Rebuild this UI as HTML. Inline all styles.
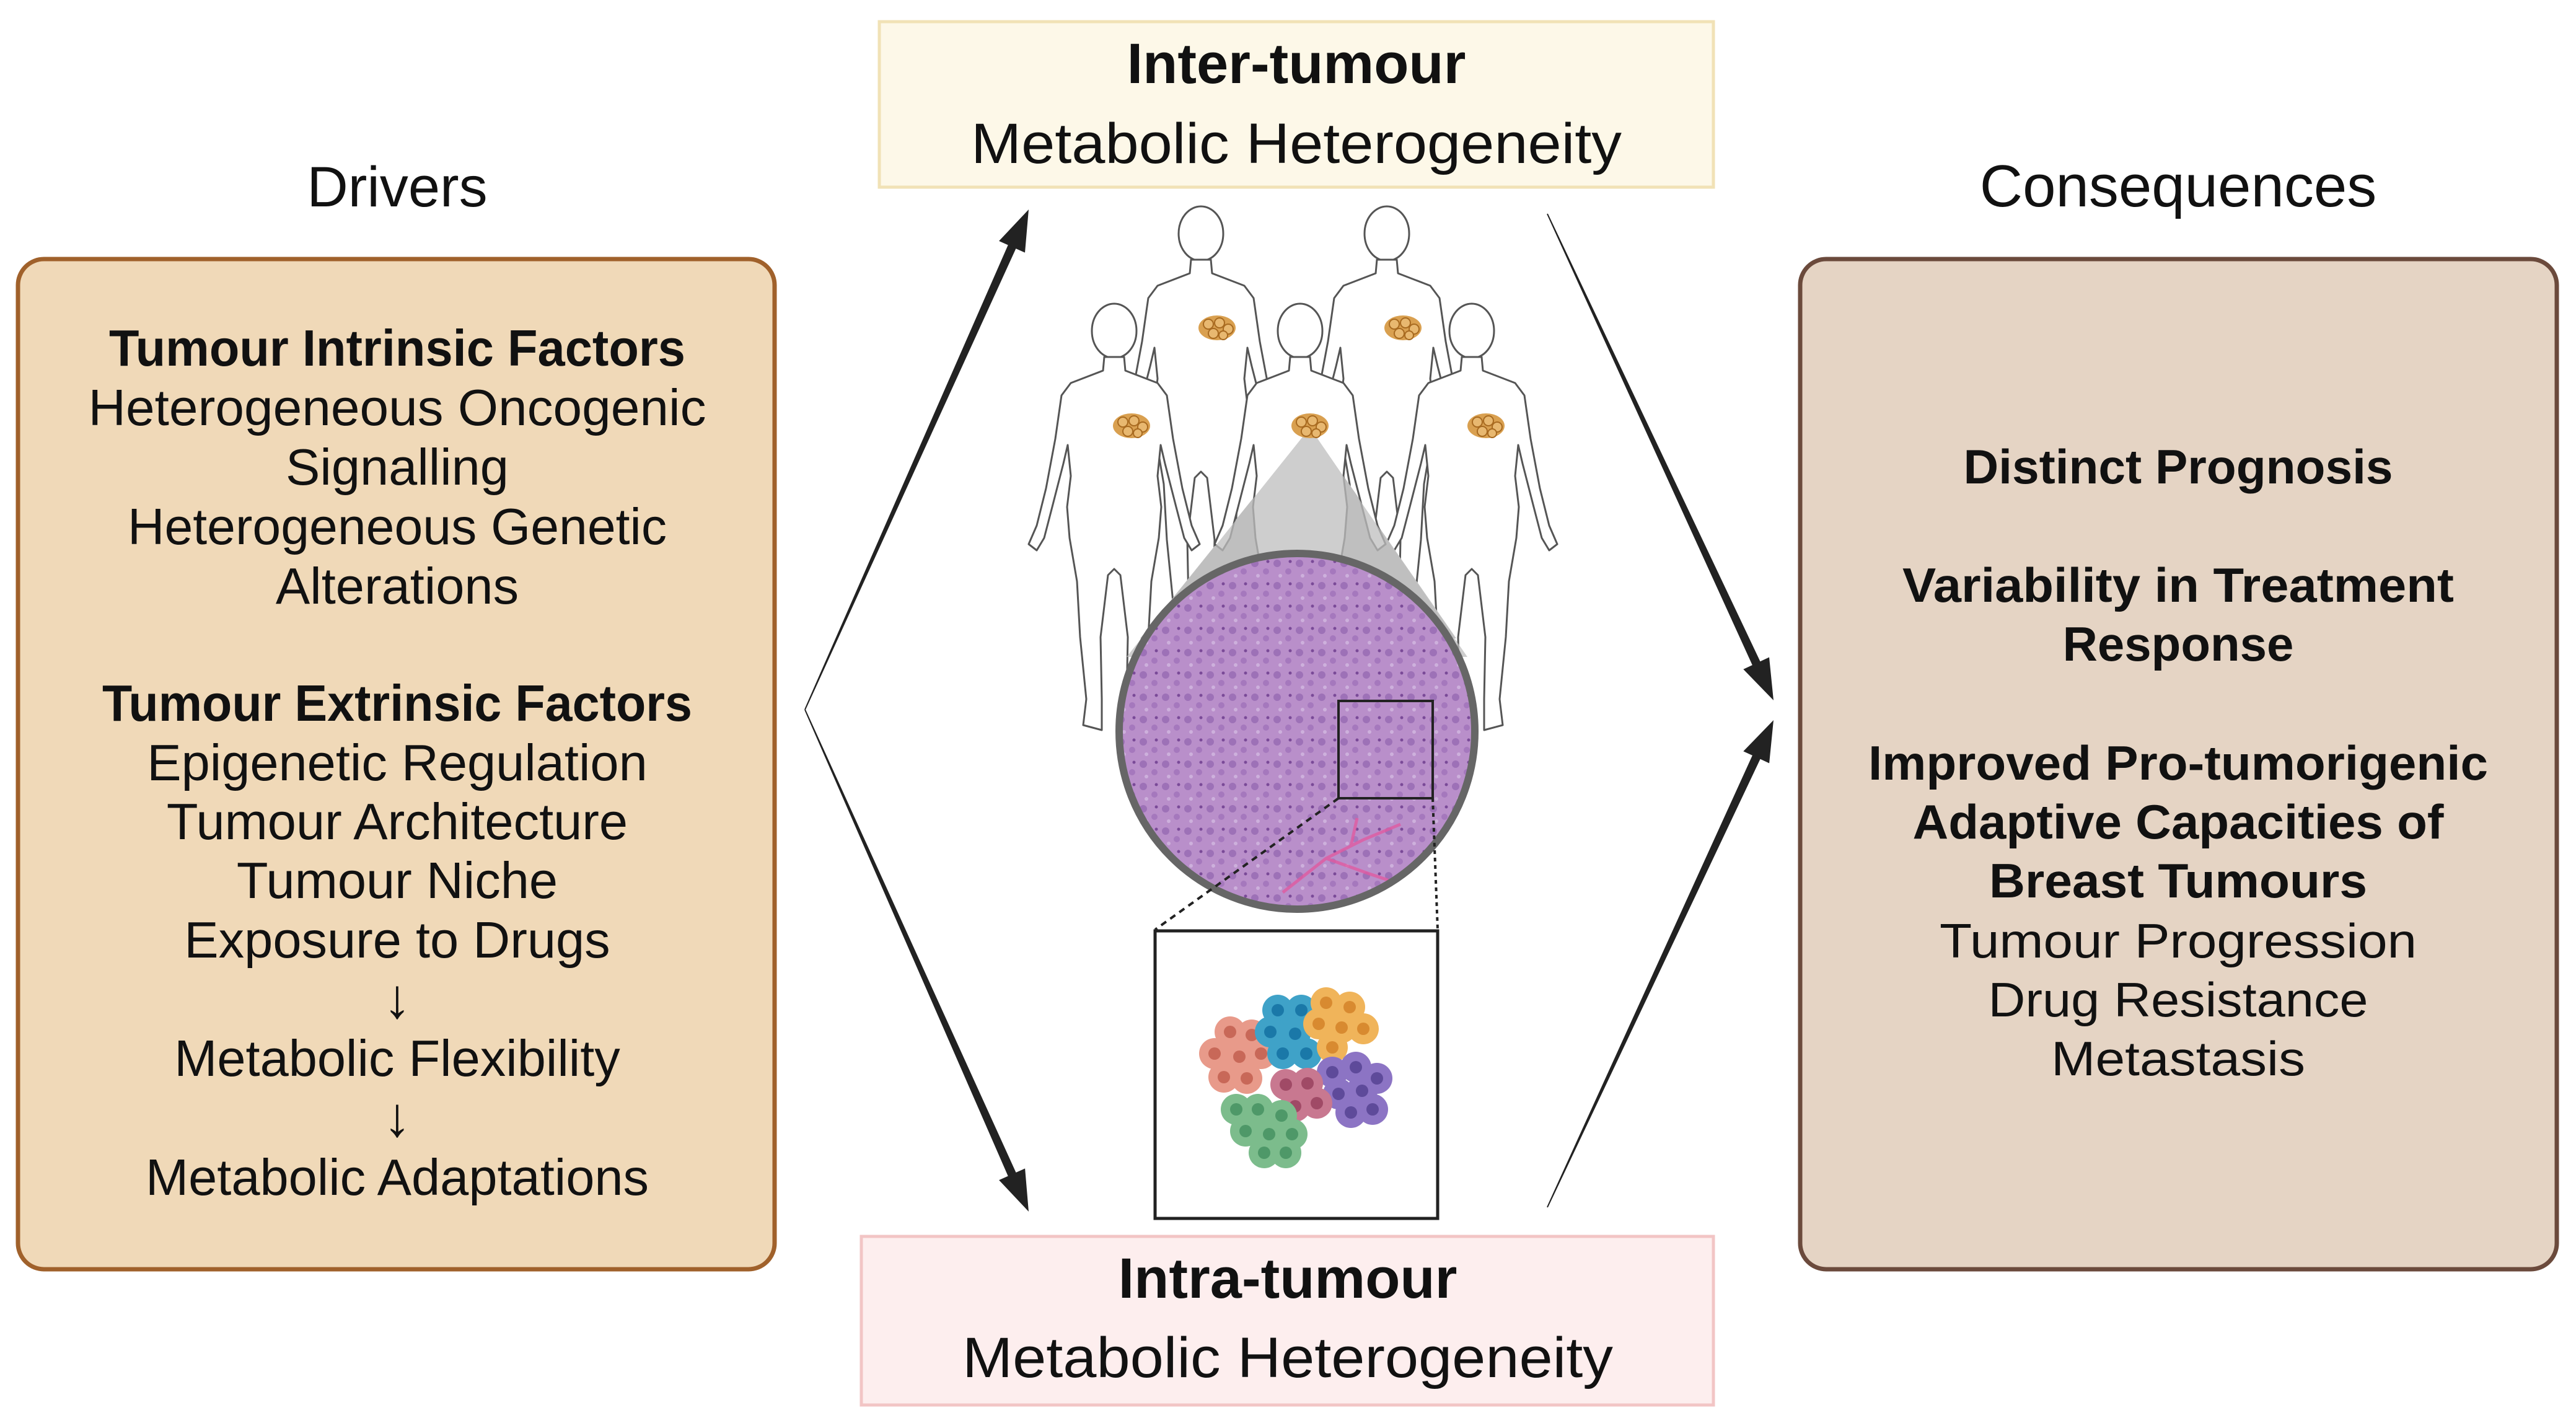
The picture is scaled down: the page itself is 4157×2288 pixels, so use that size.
<!DOCTYPE html>
<html><head><meta charset="utf-8"><style>
html,body{margin:0;padding:0;background:#fff;}
svg{display:block;}
text{font-family:"Liberation Sans",Arial,sans-serif;fill:#111;}
</style></head><body>
<svg id="s" width="4157" height="2288" viewBox="0 0 4157 2288" xmlns="http://www.w3.org/2000/svg">
<defs>
<pattern id="hist" width="36" height="36" patternUnits="userSpaceOnUse">
<rect width="36" height="36" fill="#b98fca"/>
<circle cx="9" cy="9" r="6" fill="#9466b0" opacity="0.75"/>
<circle cx="27" cy="22" r="5" fill="#9e70b8" opacity="0.75"/>
<circle cx="14" cy="29" r="3" fill="#cdb0dc"/>
<circle cx="30" cy="6" r="2.5" fill="#7a4a98"/>
</pattern>
<clipPath id="cc"><circle cx="2093" cy="1180" r="287"/></clipPath>
<g id="body">
<ellipse cx="0" cy="48" rx="36" ry="44" fill="#fff" stroke="#555" stroke-width="3"/>
<path d="M-16,90 L-18,112 L-70,132 L-85,152 L-95,222 L-110,302 L-125,362 L-138,392 L-125,402 L-113,382 L-100,332 L-82,262 L-75,232 L-70,282 L-76,332 L-72,382 L-60,452 L-55,542 L-45,642 L-50,684 L-20,692 L-20,642 L-22,542 L-10,442 L0,432 L10,442 L22,542 L20,642 L20,692 L50,684 L45,642 L55,542 L60,452 L72,382 L76,332 L70,282 L75,232 L82,262 L100,332 L113,382 L125,402 L138,392 L125,362 L110,302 L95,222 L85,152 L70,132 L18,112 L16,90 Z" fill="#fff" stroke="#555" stroke-width="3" stroke-linejoin="round"/>
</g>
<g id="tum">
<ellipse cx="0" cy="0" rx="30" ry="20" fill="#d9a050"/>
<circle cx="-14" cy="-6" r="8" fill="#e8b870" stroke="#a86a20" stroke-width="2"/>
<circle cx="4" cy="-8" r="8" fill="#e8b870" stroke="#a86a20" stroke-width="2"/>
<circle cx="18" cy="2" r="8" fill="#e8b870" stroke="#a86a20" stroke-width="2"/>
<circle cx="-6" cy="9" r="8" fill="#e8b870" stroke="#a86a20" stroke-width="2"/>
<circle cx="10" cy="12" r="7" fill="#e8b870" stroke="#a86a20" stroke-width="2"/>
</g>
</defs>

<rect x="1419" y="35" width="1346" height="267" fill="#fdf8e8" stroke="#f1e2b6" stroke-width="5"/>
<rect x="1390" y="1995" width="1375" height="272" fill="#fdeeee" stroke="#f2c5c5" stroke-width="5"/>
<rect x="29" y="418" width="1221" height="1630" rx="42" fill="#f0d9b8" stroke="#a0612b" stroke-width="7"/>
<rect x="2905" y="418" width="1221" height="1630" rx="42" fill="#e5d4c4" stroke="#6b4a3c" stroke-width="7"/>

<use href="#body" x="1938" y="329"/>
<use href="#body" x="2238" y="329"/>
<use href="#body" x="1798" y="486"/>
<use href="#body" x="2375" y="486"/>
<polygon points="2114,690 1840,1030 2350,1030" fill="#c2c2c2"/>
<use href="#body" x="2098" y="486"/>
<polygon points="2114,690 1818,1060 2368,1060" fill="#bdbdbd" opacity="0.75"/>
<use href="#tum" x="1964" y="529"/>
<use href="#tum" x="2264" y="529"/>
<use href="#tum" x="1826" y="687"/>
<use href="#tum" x="2114" y="687"/>
<use href="#tum" x="2398" y="687"/>

<circle cx="2093" cy="1180" r="287" fill="url(#hist)"/>
<g clip-path="url(#cc)" stroke="#e05aa0" stroke-width="5" fill="none" opacity="0.8">
<path d="M2070,1440 L2140,1385 L2200,1355 L2260,1330"/>
<path d="M2140,1385 L2210,1410 L2240,1420"/>
<path d="M2180,1365 L2190,1320"/>
</g>
<circle cx="2093" cy="1180" r="287" fill="none" stroke="#666" stroke-width="12"/>
<rect x="2160" y="1131" width="152" height="157" fill="none" stroke="#222" stroke-width="4"/>
<line x1="2160" y1="1288" x2="1864" y2="1500" stroke="#222" stroke-width="4" stroke-dasharray="10,8"/>
<line x1="2312" y1="1288" x2="2320" y2="1500" stroke="#222" stroke-width="4" stroke-dasharray="6,6"/>
<rect x="1864" y="1502" width="456" height="464" fill="#fff" stroke="#222" stroke-width="5"/>

<g id="cl"></g>
<g id="arr" fill="#222"></g>

<text x="641" y="333" font-size="92" text-anchor="middle">Drivers</text>
<text x="3515" y="333" font-size="96" text-anchor="middle">Consequences</text>
<text x="2092" y="134" font-size="92" font-weight="bold" text-anchor="middle">Inter-tumour</text>
<text x="2092" y="263" font-size="92" text-anchor="middle" textLength="1050" lengthAdjust="spacingAndGlyphs">Metabolic Heterogeneity</text>
<text x="2078" y="2094" font-size="92" font-weight="bold" text-anchor="middle">Intra-tumour</text>
<text x="2078" y="2222" font-size="92" text-anchor="middle" textLength="1050" lengthAdjust="spacingAndGlyphs">Metabolic Heterogeneity</text>

<g font-size="83" text-anchor="middle">
<text x="641" y="590" font-weight="bold" textLength="930" lengthAdjust="spacingAndGlyphs">Tumour Intrinsic Factors</text>
<text x="641" y="686" textLength="997" lengthAdjust="spacingAndGlyphs">Heterogeneous Oncogenic</text>
<text x="641" y="782">Signalling</text>
<text x="641" y="878" textLength="870" lengthAdjust="spacingAndGlyphs">Heterogeneous Genetic</text>
<text x="641" y="974">Alterations</text>
<text x="641" y="1163" font-weight="bold" textLength="952" lengthAdjust="spacingAndGlyphs">Tumour Extrinsic Factors</text>
<text x="641" y="1259">Epigenetic Regulation</text>
<text x="641" y="1354">Tumour Architecture</text>
<text x="641" y="1449">Tumour Niche</text>
<text x="641" y="1545">Exposure to Drugs</text>
<text x="641" y="1642" font-size="90" font-weight="bold">↓</text>
<text x="641" y="1736">Metabolic Flexibility</text>
<text x="641" y="1833" font-size="90" font-weight="bold">↓</text>
<text x="641" y="1928">Metabolic Adaptations</text>
</g>
<g font-size="78" text-anchor="middle">
<text x="3515" y="780" font-weight="bold" textLength="693" lengthAdjust="spacingAndGlyphs">Distinct Prognosis</text>
<text x="3515" y="971" font-weight="bold" textLength="890" lengthAdjust="spacingAndGlyphs">Variability in Treatment</text>
<text x="3515" y="1066" font-weight="bold">Response</text>
<text x="3515" y="1258" font-weight="bold" textLength="1000" lengthAdjust="spacingAndGlyphs">Improved Pro-tumorigenic</text>
<text x="3515" y="1353" font-weight="bold" textLength="857" lengthAdjust="spacingAndGlyphs">Adaptive Capacities of</text>
<text x="3515" y="1448" font-weight="bold" textLength="610" lengthAdjust="spacingAndGlyphs">Breast Tumours</text>
<text x="3515" y="1545" textLength="770" lengthAdjust="spacingAndGlyphs">Tumour Progression</text>
<text x="3515" y="1640" textLength="613" lengthAdjust="spacingAndGlyphs">Drug Resistance</text>
<text x="3515" y="1735" textLength="410" lengthAdjust="spacingAndGlyphs">Metastasis</text>
</g>
</svg>
<script>
(function(){
var NS="http://www.w3.org/2000/svg";
var arr=document.getElementById("arr");
function arrow(x0,y0,x1,y1,w0,w1,hw,hl){
 var dx=x1-x0,dy=y1-y0,L=Math.hypot(dx,dy),ux=dx/L,uy=dy/L,px=-uy,py=ux;
 var bx=x1-ux*hl,by=y1-uy*hl;
 var p=[[x0+px*w0/2,y0+py*w0/2],[bx+px*w1/2,by+py*w1/2],[bx+px*hw/2,by+py*hw/2],[x1,y1],[bx-px*hw/2,by-py*hw/2],[bx-px*w1/2,by-py*w1/2],[x0-px*w0/2,y0-py*w0/2]];
 var e=document.createElementNS(NS,"polygon");
 e.setAttribute("points",p.map(function(q){return q[0].toFixed(1)+","+q[1].toFixed(1)}).join(" "));
 arr.appendChild(e);
}
arrow(1299,1145,1660,338,2,14,46,66);
arrow(1299,1145,1660,1955,2,14,46,66);
arrow(2497,345,2862,1130,2,14,46,66);
arrow(2497,1948,2862,1162,2,14,46,66);
var cl=document.getElementById("cl");
var groups=[
 ["#e89a8a","#c86858",[[1985,1665],[2020,1670],[1960,1700],[2000,1705],[2035,1700],[1975,1738],[2012,1740]]],
 ["#3fa2c8","#1a78a8",[[2062,1630],[2100,1630],[2050,1665],[2090,1668],[2070,1700],[2108,1700]]],
 ["#f0b45a","#d88a30",[[2140,1618],[2178,1625],[2128,1652],[2165,1658],[2200,1660],[2150,1690]]],
 ["#8c74c4","#5e4a9a",[[2150,1730],[2188,1722],[2222,1740],[2160,1765],[2198,1760],[2180,1795],[2215,1790]]],
 ["#c87890","#a04a66",[[2075,1750],[2110,1748],[2090,1785],[2125,1780]]],
 ["#7cbc8c","#4e9868",[[1995,1790],[2030,1790],[2068,1800],[2010,1825],[2048,1830],[2085,1830],[2040,1860],[2075,1860]]]
];
groups.forEach(function(g){
 g[2].forEach(function(c){
  var e=document.createElementNS(NS,"circle");
  e.setAttribute("cx",c[0]);e.setAttribute("cy",c[1]);e.setAttribute("r",25);e.setAttribute("fill",g[0]);cl.appendChild(e);
 });
 g[2].forEach(function(c){
  var e=document.createElementNS(NS,"circle");
  e.setAttribute("cx",c[0]);e.setAttribute("cy",c[1]);e.setAttribute("r",10);e.setAttribute("fill",g[1]);cl.appendChild(e);
 });
});
})();
</script>
</body></html>
